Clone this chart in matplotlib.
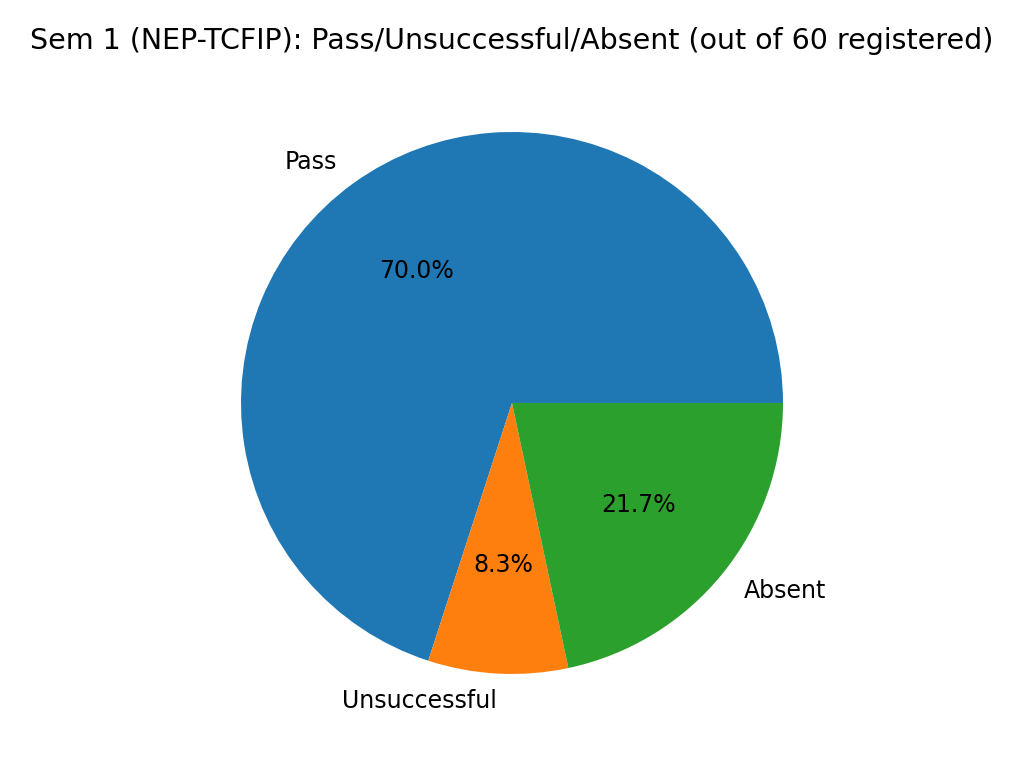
import matplotlib
matplotlib.use("Agg")
import matplotlib.pyplot as plt

labels = ['Pass', 'Unsuccessful', 'Absent']
counts = [42, 5, 13]
total_registered = 60

plt.rcParams['font.size'] = 10.65

fig = plt.figure(figsize=(6.4, 4.8), dpi=160)
ax = fig.add_axes([0.1692, 0.0342, 0.6616, 0.8822])
ax.pie(counts, labels=labels, autopct='%1.1f%%')
ax.set_title(f"Sem 1 (NEP-TCFIP): Pass/Unsuccessful/Absent (out of {total_registered} registered)",
             fontsize=12.8, pad=7)

fig.savefig("out.png", dpi=160)
